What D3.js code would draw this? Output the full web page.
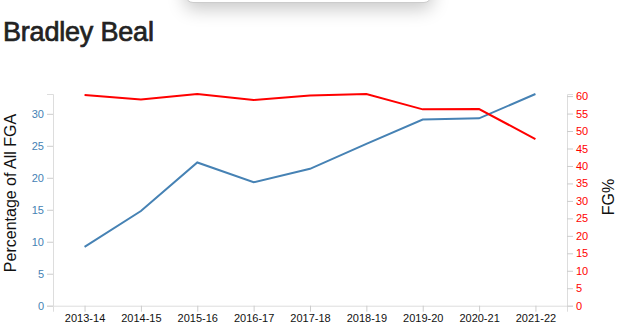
<!DOCTYPE html>
<html>
<head>
<meta charset="utf-8">
<script src="https://cdn.jsdelivr.net/npm/d3@7"></script>
<style>
  html, body { margin: 0; padding: 0; background: #fff; width: 640px; height: 331px; overflow: hidden; }
  body { position: relative; font-family: "Liberation Sans", Arial, Helvetica, sans-serif; }
  #title { position: absolute; left: 3px; top: 16px; margin: 0; font-size: 27px; line-height: 32px; font-weight: normal; color: #222;
           -webkit-text-stroke: 0.7px #222; letter-spacing: -0.2px; }
  #popup { position: absolute; left: 185px; top: -40px; width: 245px; height: 41px; background: #fff; border-radius: 8px;
           border: 1px solid #ccc; box-shadow: 0 6px 18px rgba(0,0,0,0.22); }
  svg { position: absolute; left: 0; top: 0; }
</style>
</head>
<body>
<div id="popup"></div>
<h2 id="title">Bradley Beal</h2>
<svg id="chart" width="640" height="331"></svg>
<script>
const seasons = ["2013-14","2014-15","2015-16","2016-17","2017-18","2018-19","2019-20","2020-21","2021-22"];
const pctOfFGA = [9.2, 14.8, 22.4, 19.3, 21.4, 25.3, 29.1, 29.3, 33.1];
const fgPct = [60.3, 59.0, 60.6, 58.9, 60.2, 60.6, 56.2, 56.3, 47.7];

const plotLeft = 53, plotRight = 567, plotTop = 94, plotBottom = 305.7;
const svg = d3.select("#chart");

const x = d3.scalePoint().domain(seasons).range([plotLeft, plotRight]).padding(0.56);
const yL = d3.scaleLinear().domain([0, d3.max(pctOfFGA)]).range([plotBottom, plotTop]);
const yR = d3.scaleLinear().domain([0, d3.max(fgPct)]).range([plotBottom, plotTop]);

function styleAxis(g, color) {
  g.selectAll(".domain").attr("stroke", "#ddd");
  g.selectAll(".tick line").attr("stroke", "#ccc");
  g.selectAll(".tick text").attr("fill", color).attr("font-size", 11)
    .attr("font-family", "'Liberation Sans', Arial, Helvetica, sans-serif");
}

const gx = svg.append("g").attr("transform", `translate(0,${plotBottom})`).call(d3.axisBottom(x));
styleAxis(gx, "#111");

const gl = svg.append("g").attr("transform", `translate(${plotLeft},0)`).call(d3.axisLeft(yL));
styleAxis(gl, "steelblue");

const gr = svg.append("g").attr("transform", `translate(${plotRight},0)`).call(d3.axisRight(yR));
styleAxis(gr, "red");

svg.append("path").datum(pctOfFGA)
  .attr("fill", "none").attr("stroke", "steelblue").attr("stroke-width", 2)
  .attr("d", d3.line().x((d, i) => x(seasons[i])).y(d => yL(d)));

svg.append("path").datum(fgPct)
  .attr("fill", "none").attr("stroke", "red").attr("stroke-width", 2)
  .attr("d", d3.line().x((d, i) => x(seasons[i])).y(d => yR(d)));

svg.append("text").attr("transform", "translate(16,193) rotate(-90)")
  .attr("text-anchor", "middle").attr("font-size", 16).attr("fill", "#111")
  .attr("font-family", "'Liberation Sans', Arial, Helvetica, sans-serif")
  .text("Percentage of All FGA");

svg.append("text").attr("transform", "translate(614,197) rotate(-90)")
  .attr("text-anchor", "middle").attr("font-size", 16).attr("fill", "#111")
  .attr("font-family", "'Liberation Sans', Arial, Helvetica, sans-serif")
  .text("FG%");
</script>
</body>
</html>
